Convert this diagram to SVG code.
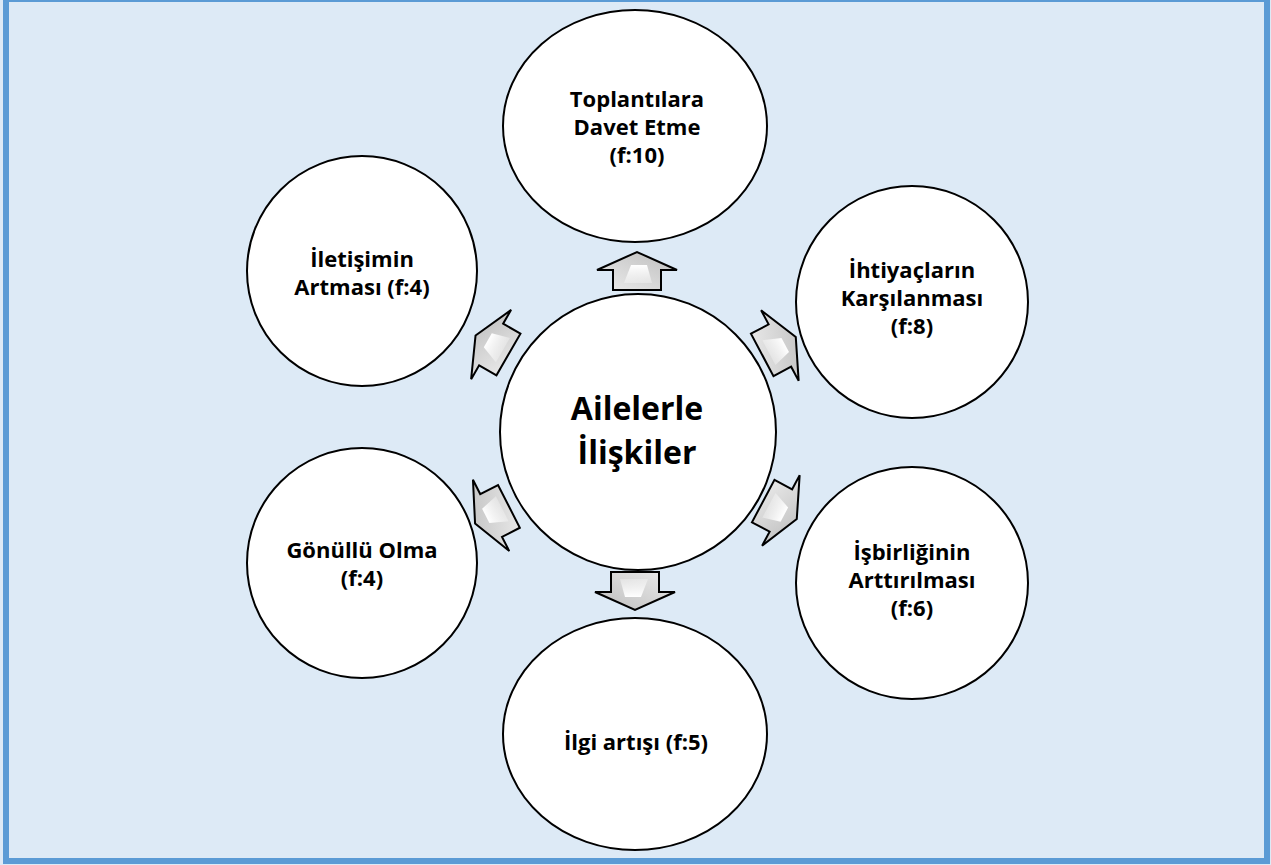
<svg xmlns="http://www.w3.org/2000/svg" xmlns:xlink="http://www.w3.org/1999/xlink" width="1271" height="865" viewBox="0 0 1271 865">
<style>
.node{fill:#ffffff;stroke:#000000;stroke-width:2}
.lbl{font-family:"Open Sans","Noto Sans","DejaVu Sans",sans-serif;font-weight:bold;font-size:22px;fill:#000000;text-anchor:middle}
.big{font-size:32px}
.arr{stroke:#000000;stroke-width:2;stroke-linejoin:miter;fill:url(#ag)}
</style>
<defs>
<linearGradient id="ag" x1="0" y1="0" x2="1" y2="1">
<stop offset="0" stop-color="#ececec"/>
<stop offset="1" stop-color="#bdbdbd"/>
</linearGradient>
<linearGradient id="hg" x1="0" y1="0" x2="1" y2="0">
<stop offset="0" stop-color="#ffffff" stop-opacity="0.3"/>
<stop offset="1" stop-color="#ffffff" stop-opacity="1"/>
</linearGradient>
<g id="arrow">
<path class="arr" d="M-19,-24 L1,-24 L1,-40 L19,0 L1,40 L1,24 L-19,24 Z"/>
<path d="M-12,-13 L6,-6 L6,10 L-12,15 Z" fill="url(#hg)"/>
</g>
</defs>
<rect x="0" y="0" width="1271" height="865" fill="#DDEAF6"/>
<rect x="6" y="-1" width="1261" height="862" fill="none" stroke="#5B9BD5" stroke-width="6"/>
<g id="connectors">
<use xlink:href="#arrow" transform="translate(637,271) rotate(-90)"/>
<use xlink:href="#arrow" transform="translate(635,591) rotate(90)"/>
<use xlink:href="#arrow" transform="translate(492,345) rotate(210)"/>
<use xlink:href="#arrow" transform="translate(779,346) rotate(-28)"/>
<use xlink:href="#arrow" transform="translate(492,515) rotate(153)"/>
<use xlink:href="#arrow" transform="translate(780,510) rotate(28)"/>
</g>
<g id="center">
<circle class="node" cx="638" cy="432" r="138"/>
<text class="lbl big" x="637" y="420">Ailelerle</text>
<text class="lbl big" x="637" y="464">İlişkiler</text>
</g>
<g id="n-top">
<ellipse class="node" cx="635" cy="126" rx="132" ry="116"/>
<text class="lbl" x="637" y="107">Toplantılara</text>
<text class="lbl" x="637" y="135">Davet Etme</text>
<text class="lbl" x="637" y="163">(f:10)</text>
</g>
<g id="n-upper-right">
<circle class="node" cx="912" cy="302" r="116"/>
<text class="lbl" x="912" y="278">İhtiyaçların</text>
<text class="lbl" x="912" y="306">Karşılanması</text>
<text class="lbl" x="912" y="334">(f:8)</text>
</g>
<g id="n-lower-right">
<circle class="node" cx="912" cy="583" r="116"/>
<text class="lbl" x="912" y="560">İşbirliğinin</text>
<text class="lbl" x="912" y="588">Arttırılması</text>
<text class="lbl" x="912" y="616">(f:6)</text>
</g>
<g id="n-bottom">
<ellipse class="node" cx="635" cy="734" rx="132" ry="116"/>
<text class="lbl" x="636" y="750">İlgi artışı (f:5)</text>
</g>
<g id="n-lower-left">
<circle class="node" cx="362" cy="563" r="115"/>
<text class="lbl" x="362" y="558">Gönüllü Olma</text>
<text class="lbl" x="362" y="586">(f:4)</text>
</g>
<g id="n-upper-left">
<circle class="node" cx="362" cy="271" r="115"/>
<text class="lbl" x="362" y="267">İletişimin</text>
<text class="lbl" x="362" y="295">Artması (f:4)</text>
</g>
</svg>
